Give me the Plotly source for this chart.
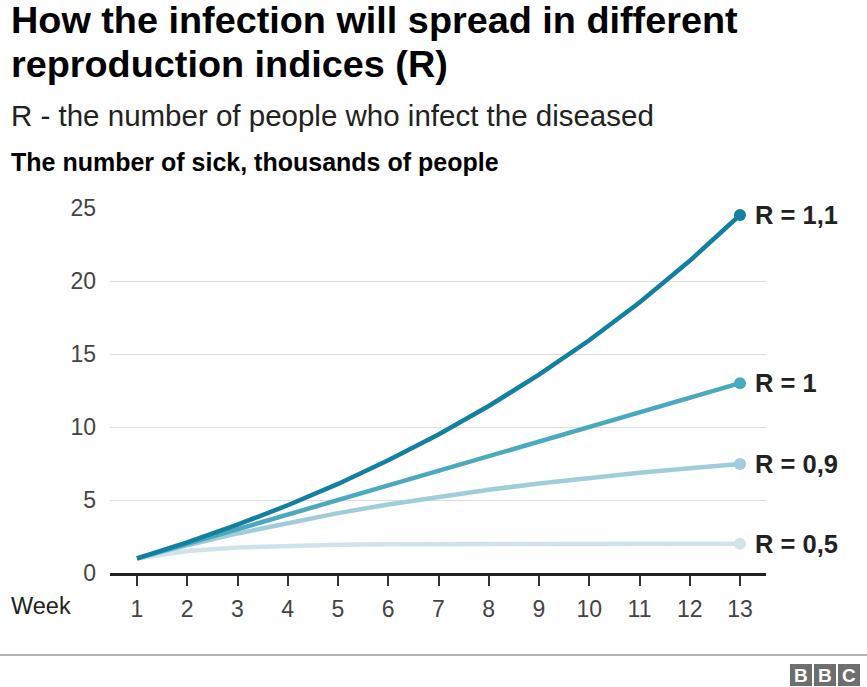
import plotly.graph_objects as go

weeks = list(range(1, 14))
r_05 = [1, 1.5, 1.75, 1.88, 1.94, 1.97, 1.98, 1.99, 2, 2, 2, 2, 2]
r_09 = [1, 1.9, 2.71, 3.44, 4.1, 4.69, 5.22, 5.7, 6.13, 6.51, 6.86, 7.18, 7.46]
r_1 = [1, 2, 3, 4, 5, 6, 7, 8, 9, 10, 11, 12, 13]
r_11 = [1, 2.1, 3.31, 4.64, 6.1, 7.72, 9.49, 11.44, 13.58, 15.94, 18.53, 21.38, 24.52]

series_values = [r_05, r_09, r_1, r_11]
series_labels = ["R = 0,5", "R = 0,9", "R = 1", "R = 1,1"]
series_colors = ["#d0e3e8", "#a1cdda", "#4ba9bf", "#1380a1"]

title_lines = ["How the infection will spread in different", "reproduction indices (R)"]
subtitle = "R - the number of people who infect the diseased"
y_title = "The number of sick, thousands of people"
x_label = "Week"
y_ticks = [0, 5, 10, 15, 20, 25]

W, H = 867, 687
L, R_, T, B = 110, 766, 208, 573
FONT = "Liberation Sans, Arial, Helvetica, sans-serif"


def px(xp):
    return (xp - L) / (R_ - L)


def py(yp):
    return (B - yp) / (B - T)


fig = go.Figure()
for vals, lab, col in zip(series_values, series_labels, series_colors):
    fig.add_trace(go.Scatter(
        x=weeks, y=vals, mode="lines", line=dict(color=col, width=4.5),
        hoverinfo="skip", showlegend=False))
    fig.add_trace(go.Scatter(
        x=[weeks[-1]], y=[vals[-1]], mode="markers",
        marker=dict(color=col, size=12), hoverinfo="skip", showlegend=False))
    fig.add_annotation(x=weeks[-1], y=vals[-1], xref="x", yref="y", text="<b>" + lab + "</b>",
                       showarrow=False, xanchor="left", yanchor="middle", xshift=13,
                       font=dict(family=FONT, size=25.5, color="#222222"))

anns = [
    (title_lines[0], 20, 37.8, True, "#000000"),
    (title_lines[1], 64, 37.8, True, "#000000"),
    (subtitle, 116, 29.5, False, "#222222"),
    (y_title, 162, 25, True, "#000000"),
]
for txt, yc, size, bold, col in anns:
    fig.add_annotation(x=px(9), y=py(yc), xref="paper", yref="paper",
                       text=("<b>" + txt + "</b>") if bold else txt,
                       showarrow=False, xanchor="left", yanchor="middle",
                       font=dict(family=FONT, size=size, color=col))

fig.add_annotation(x=px(9), y=py(606), xref="paper", yref="paper", text=x_label,
                   showarrow=False, xanchor="left", yanchor="middle",
                   font=dict(family=FONT, size=23.5, color="#222222"))

# bottom rule
fig.add_shape(type="line", xref="paper", yref="paper", x0=px(0), x1=px(W),
              y0=py(655), y1=py(655), line=dict(color="#999999", width=1.5))

# BBC logo
for i, letter in enumerate("BBC"):
    x0 = 790 + i * 24
    fig.add_shape(type="rect", xref="paper", yref="paper",
                  x0=px(x0), x1=px(x0 + 22), y0=py(664), y1=py(686),
                  line=dict(width=0), fillcolor="#6e6e6e")
    fig.add_annotation(x=px(x0 + 11), y=py(675), xref="paper", yref="paper", text="<b>" + letter + "</b>",
                       showarrow=False, xanchor="center", yanchor="middle",
                       font=dict(family=FONT, size=19, color="#ffffff"))

fig.update_layout(
    width=W, height=H, margin=dict(l=L, r=W - R_, t=T, b=H - B, pad=0),
    paper_bgcolor="white", plot_bgcolor="white",
    font=dict(family=FONT, color="#444444", size=23),
    xaxis=dict(range=[1 - 27 / 50.25, 13 + 26 / 50.25], tickmode="array", tickvals=weeks,
               ticktext=[str(w) for w in weeks], ticks="outside", ticklen=10, tickwidth=1.5,
               tickcolor="#333333", showgrid=False, zeroline=False, showline=True,
               linecolor="#222222", linewidth=2.5, fixedrange=True, ticklabelstandoff=4,
               tickfont=dict(family=FONT, size=23, color="#444444")),
    yaxis=dict(range=[0, 25], tickvals=y_ticks, showgrid=True, gridcolor="#dddddd", gridwidth=1,
               zeroline=False, showline=False, ticks="", ticklabelstandoff=13, fixedrange=True,
               tickfont=dict(family=FONT, size=23, color="#444444")),
)

fig.write_html("out.html")
